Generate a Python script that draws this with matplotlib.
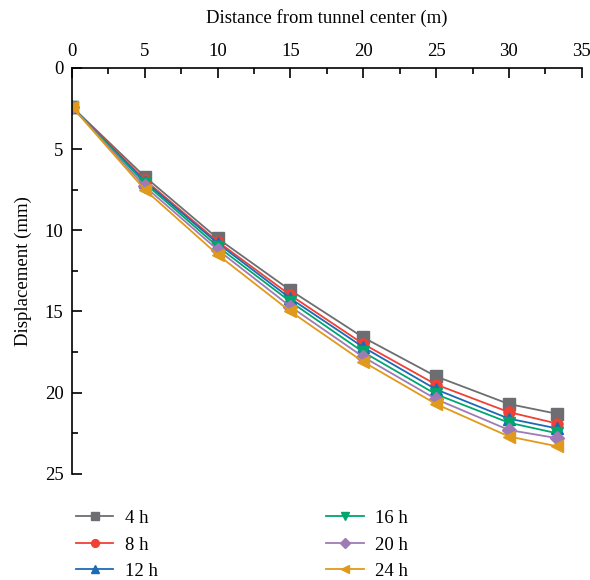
import numpy as np
import matplotlib
matplotlib.use('Agg')
import matplotlib.pyplot as plt
from matplotlib.ticker import MultipleLocator

plt.rcParams['font.family'] = ['Liberation Serif', 'DejaVu Serif']

# Distance from tunnel center (m)
distance = [0, 5, 10, 15, 20, 25, 30, 33.3]

# Displacement (mm) for each time step
disp_4h = [2.4, 6.7, 10.5, 13.7, 16.6, 19.0, 20.7, 21.3]
disp_8h = [2.4, 6.9, 10.7, 14.0, 17.0, 19.5, 21.2, 21.9]
disp_12h = [2.4, 7.0, 10.8, 14.2, 17.2, 19.8, 21.6, 22.2]
disp_16h = [2.4, 7.1, 11.0, 14.4, 17.5, 20.1, 21.85, 22.5]
disp_20h = [2.4, 7.3, 11.2, 14.7, 17.8, 20.4, 22.3, 22.8]
disp_24h = [2.4, 7.5, 11.5, 15.0, 18.1, 20.7, 22.7, 23.3]

labels = ['4 h', '8 h', '12 h', '16 h', '20 h', '24 h']
colors = ['#6d6e71', '#ef4136', '#1b6ab5', '#00a66e', '#9e7bb5', '#e09a1b']
markers = ['s', 'o', '^', 'v', 'D', '<']
series = [disp_4h, disp_8h, disp_12h, disp_16h, disp_20h, disp_24h]

fig = plt.figure(figsize=(5.9, 5.8), dpi=100)
ax = fig.add_axes([0.122, 0.183, 0.864, 0.70])

for vals, lab, col, mk in zip(series, labels, colors, markers):
    ms = 7 if mk == 'D' else 8
    ax.plot(distance, vals, color=col, marker=mk, markersize=ms, linewidth=1.3, label=lab)

ax.set_xlim(0, 35)
ax.set_ylim(25, 0)
ax.xaxis.set_major_locator(MultipleLocator(5))
ax.xaxis.set_minor_locator(MultipleLocator(2.5))
ax.yaxis.set_major_locator(MultipleLocator(5))
ax.yaxis.set_minor_locator(MultipleLocator(2.5))
ax.xaxis.tick_top()
ax.xaxis.set_label_position('top')
ax.tick_params(which='both', direction='in', top=True, bottom=False, left=True, right=False, labelsize=13.5)
ax.tick_params(which='major', length=7, width=1.2, pad=6)
ax.tick_params(which='minor', length=4, width=1.2)
ax.spines['right'].set_visible(False)
ax.spines['bottom'].set_visible(False)
ax.spines['top'].set_linewidth(1.2)
ax.spines['left'].set_linewidth(1.2)

ax.set_xlabel('Distance from tunnel center (m)', fontsize=13.5, labelpad=14)
ax.set_ylabel('Displacement (mm)', fontsize=13.5, labelpad=9)

handles, labs = ax.get_legend_handles_labels()
fig.legend(handles, labs, ncol=2, loc='upper left',
           bbox_to_anchor=(0.1, 0.15), frameon=False, fontsize=13.5, markerscale=0.7,
           columnspacing=9.0, handlelength=2.0, handletextpad=0.6, labelspacing=0.5)

fig.savefig('out.png', dpi=100)
